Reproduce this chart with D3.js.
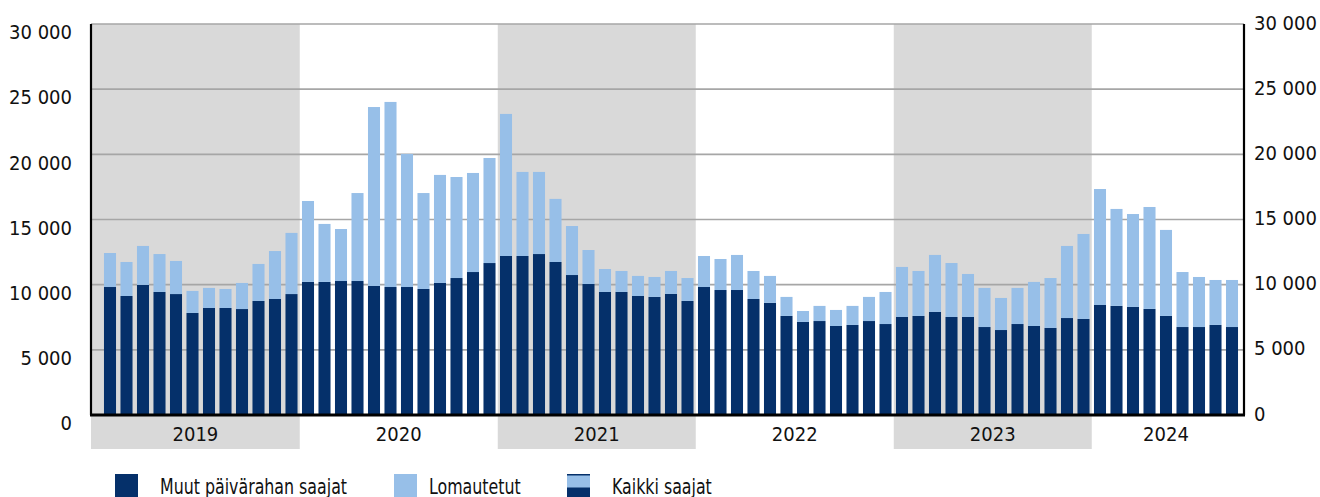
<!DOCTYPE html>
<html>
<head>
<meta charset="utf-8">
<script src="https://cdn.jsdelivr.net/npm/d3@7"></script>
<style>
  html, body { margin: 0; padding: 0; background: #fff; }
  svg { display: block; }
  .num { font-family: "DejaVu Sans Condensed", "DejaVu Sans", sans-serif; font-size: 20px; fill: #111; }
  .leg { font-family: "DejaVu Sans Condensed", "DejaVu Sans", sans-serif; font-size: 22px; fill: #111; }
</style>
</head>
<body>
<svg id="chart" width="1320" height="497"></svg>
<script>
const years = ["2019", "2020", "2021", "2022", "2023", "2024"];
const monthsPerYear = [12, 12, 12, 12, 12, 9];

// muut päivärahan saajat, monthly
const muut = [
  9820, 9130, 9980, 9440, 9280, 7830, 8210, 8210, 8130, 8750, 8900, 9280,
  10210, 10210, 10280, 10280, 9900, 9820, 9820, 9670, 10130, 10510, 10970, 11660,
  12200, 12200, 12350, 11740, 10740, 10050, 9440, 9440, 9130, 9060, 9290, 8750,
  9820, 9590, 9590, 8900, 8600, 7600, 7140, 7210, 6830, 6910, 7210, 6980,
  7520, 7600, 7910, 7520, 7520, 6750, 6520, 6980, 6830, 6680, 7440, 7370,
  8440, 8370, 8290, 8140, 7600, 6750, 6750, 6910, 6750
];

// lomautetut, monthly
const lomautetut = [
  2610, 2610, 2990, 2910, 2540, 1690, 1540, 1460, 2000, 2840, 3680, 4690,
  6210, 4450, 3990, 6750, 13730, 14200, 10210, 7360, 8290, 7750, 7600, 8060,
  10900, 6450, 6300, 4840, 3760, 2610, 1760, 1610, 1540, 1530, 1760, 1760,
  2380, 2380, 2690, 2150, 2070, 1460, 840, 1160, 1230, 1460, 1850, 2460,
  3840, 3450, 4370, 4140, 3300, 3000, 2460, 2770, 3380, 3830, 5530, 6520,
  8900, 7440, 7130, 7820, 6600, 4220, 3840, 3450, 3610
];

const yTicks = [0, 5000, 10000, 15000, 20000, 25000, 30000];
const legendLabels = ["Muut päivärahan saajat", "Lomautetut", "Kaikki saajat"];

const navy = "#05306a";
const light = "#97bfe8";
const shade = "#d9d9d9";

const plotLeft = 91, plotRight = 1244, plotTop = 24, plotBottom = 415;

// month rows
let months = [];
years.forEach((yr, yi) => {
  for (let m = 0; m < monthsPerYear[yi]; m++) {
    const i = months.length;
    months.push({ i: i, year: yr, yi: yi, muut: muut[i], lom: lomautetut[i] });
  }
});

const svg = d3.select("#chart");

const x = d3.scaleBand()
  .domain(months.map(d => d.i))
  .range([plotLeft + 10.75, plotRight - 3.75])
  .paddingInner(0.27)
  .paddingOuter(0.135);

const y = d3.scaleLinear()
  .domain([0, 30000])
  .range([plotBottom, plotTop]);

const gap = x.step() * x.paddingInner() / 2;

// year spans
const yearSpans = years.map((yr, yi) => {
  const ms = months.filter(d => d.yi === yi);
  const x0 = yi === 0 ? plotLeft : x(ms[0].i) - gap;
  const x1 = x(ms[ms.length - 1].i) + x.bandwidth() + gap;
  return { year: yr, yi: yi, x0: x0, x1: Math.min(x1, plotRight) };
});

// grey bands for every second year
svg.append("g")
  .selectAll("rect")
  .data(yearSpans.filter(d => d.yi % 2 === 0))
  .enter().append("rect")
  .attr("x", d => d.x0)
  .attr("y", plotTop)
  .attr("width", d => d.x1 - d.x0)
  .attr("height", 449 - plotTop)
  .attr("fill", shade);

// gridlines
svg.append("g")
  .selectAll("line")
  .data(yTicks.filter(t => t > 0))
  .enter().append("line")
  .attr("x1", plotLeft)
  .attr("x2", plotRight)
  .attr("y1", d => y(d))
  .attr("y2", d => y(d))
  .attr("stroke", "#a6a6a6")
  .attr("stroke-width", 1.6);

// stacked bars
const bars = svg.append("g");
bars.selectAll(".muut")
  .data(months)
  .enter().append("rect")
  .attr("class", "muut")
  .attr("x", d => x(d.i))
  .attr("width", x.bandwidth())
  .attr("y", d => y(d.muut))
  .attr("height", d => y(0) - y(d.muut))
  .attr("fill", navy);

bars.selectAll(".lom")
  .data(months)
  .enter().append("rect")
  .attr("class", "lom")
  .attr("x", d => x(d.i))
  .attr("width", x.bandwidth())
  .attr("y", d => y(d.muut + d.lom))
  .attr("height", d => y(d.muut) - y(d.muut + d.lom))
  .attr("fill", light);

// axes
const fmt = d3.formatLocale({ decimal: ",", thousands: "\u00a0", grouping: [3], currency: ["", ""] }).format(",");

const yAxisL = svg.append("g")
  .attr("transform", `translate(${plotLeft},0)`)
  .call(d3.axisLeft(y).tickValues(yTicks).tickSize(0).tickPadding(19).tickFormat(fmt));
yAxisL.select(".domain").remove();
yAxisL.selectAll("text").attr("class", "num").attr("dy", "0.74em");

const yAxisR = svg.append("g")
  .attr("transform", `translate(${plotRight},0)`)
  .call(d3.axisRight(y).tickValues(yTicks).tickSize(0).tickPadding(10).tickFormat(fmt));
yAxisR.select(".domain").remove();
yAxisR.selectAll("text").attr("class", "num").attr("dy", "0.25em");

svg.selectAll("g[font-family]").attr("font-family", null).attr("font-size", null);

// axis lines
svg.append("line")
  .attr("x1", plotLeft).attr("x2", plotLeft)
  .attr("y1", plotTop).attr("y2", plotBottom)
  .attr("stroke", "#000").attr("stroke-width", 2.2);
svg.append("line")
  .attr("x1", plotRight).attr("x2", plotRight)
  .attr("y1", plotTop).attr("y2", plotBottom)
  .attr("stroke", "#000").attr("stroke-width", 2.2);
svg.append("line")
  .attr("x1", plotLeft - 1).attr("x2", plotRight + 1)
  .attr("y1", plotBottom).attr("y2", plotBottom)
  .attr("stroke", "#000").attr("stroke-width", 2.8);

// year labels
svg.append("g")
  .selectAll("text")
  .data(yearSpans)
  .enter().append("text")
  .attr("class", "num")
  .attr("x", d => (d.x0 + d.x1) / 2)
  .attr("y", 441)
  .attr("text-anchor", "middle")
  .text(d => d.year);

// legend
const legSwatchX = [115, 394, 567];
const legTextX = [160, 429, 612];
const leg = svg.append("g");

leg.selectAll("rect.sw")
  .data(legendLabels)
  .enter().append("rect")
  .attr("class", "sw")
  .attr("x", (d, i) => legSwatchX[i])
  .attr("y", 474)
  .attr("width", 23)
  .attr("height", 26)
  .attr("fill", (d, i) => i === 1 ? light : navy);

// "Kaikki saajat" swatch: light top over dark bottom, thin dark top edge
leg.append("rect")
  .attr("x", legSwatchX[2])
  .attr("y", 475.5)
  .attr("width", 23)
  .attr("height", 12)
  .attr("fill", light);

// condensed font squeezed to match the narrow face of the original
leg.selectAll("text")
  .data(legendLabels)
  .enter().append("text")
  .attr("class", "leg")
  .attr("transform", (d, i) => `translate(${legTextX[i]},494) scale(0.8,1)`)
  .text(d => d);
</script>
</body>
</html>
